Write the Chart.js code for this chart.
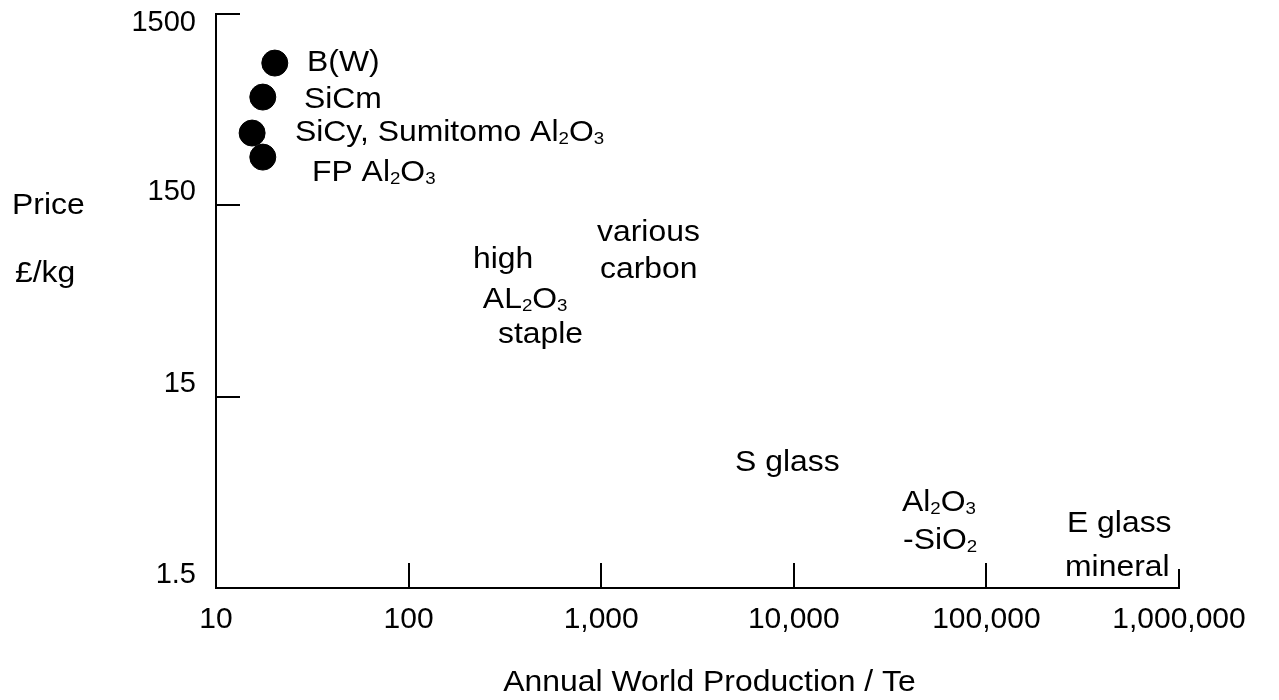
<!DOCTYPE html>
<html lang="en">
<head>
  <meta charset="UTF-8">
  <title>Fibre price vs production</title>
  <script src="https://cdn.jsdelivr.net/npm/chart.js"></script>
  <style>
    body { margin: 0; background: #fff; }
    #wrap { width: 1279px; height: 700px; }
  </style>
</head>
<body>
  <div id="wrap"><canvas id="priceChart"></canvas></div>

  <script>
    // fibres plotted as dots
    const fibreNames = ['B(W)', 'SiCm', 'SiCy, Sumitomo Al2O3', 'FP Al2O3'];
    const production = [20.2, 17.5, 15.4, 17.5];
    const price = [831, 552, 358, 268];

    // text notes placed on the plot (left edge, middle), "_" marks a subscript digit
    const noteText = ['B(W)', 'SiCm', 'SiCy, Sumitomo Al_2O_3', 'FP Al_2O_3',
      'high', 'AL_2O_3', 'staple', 'various', 'carbon', 'S glass',
      'Al_2O_3', '-SiO_2', 'E glass', 'mineral'];
    const noteX = [29.7, 28.6, 25.7, 31.5, 216, 243, 291, 951, 986, 4951, 36460, 36900, 262000, 255900];
    const noteY = [831, 533, 358, 221, 77.6, 48.0, 31.5, 107.5, 68.9, 6.75, 4.17, 2.64, 3.24, 1.91];

    const xTicks = [10, 100, 1000, 10000, 100000, 1000000];
    const yTicks = [1.5, 15, 150, 1500];
    const xTitle = 'Annual World Production / Te';
    const yTitle = ['Price', '£/kg'];

    const FONT = '"Liberation Sans", Arial, sans-serif';
    const STRETCH = 1.1; // the scanned lettering is a bit wide

    function drawNote(ctx, text, x, y, size) {
      const parts = text.split(/(_\d)/).filter(p => p);
      let cx = 0;
      ctx.save();
      ctx.translate(x, y);
      ctx.scale(STRETCH, 1);
      ctx.textBaseline = 'middle';
      ctx.textAlign = 'left';
      parts.forEach(p => {
        if (p[0] === '_') {
          ctx.font = Math.round(size * 0.6) + 'px ' + FONT;
          ctx.fillText(p[1], cx, size * 0.2);
          cx += ctx.measureText(p[1]).width;
        } else {
          ctx.font = size + 'px ' + FONT;
          ctx.fillText(p, cx, 0);
          cx += ctx.measureText(p).width;
        }
      });
      ctx.restore();
    }

    const extras = {
      id: 'extras',
      afterDraw(chart) {
        const ctx = chart.ctx;
        const xs = chart.scales.x;
        const ys = chart.scales.y;
        const area = chart.chartArea;
        ctx.save();
        ctx.strokeStyle = '#000';
        ctx.fillStyle = '#000';
        ctx.lineWidth = 2;

        // inside tick marks
        ctx.beginPath();
        yTicks.slice(1).forEach(v => {
          const py = Math.round(ys.getPixelForValue(v));
          ctx.moveTo(area.left, py);
          ctx.lineTo(area.left + 24, py);
        });
        xTicks.slice(1).forEach((v, i) => {
          const px = Math.round(xs.getPixelForValue(v));
          ctx.moveTo(px, area.bottom);
          ctx.lineTo(px, area.bottom - (i === xTicks.length - 2 ? 19 : 25));
        });
        ctx.stroke();

        // y tick labels, sitting just above their ticks
        ctx.font = '29px ' + FONT;
        ctx.textAlign = 'right';
        ctx.textBaseline = 'middle';
        yTicks.forEach(v => {
          const py = ys.getPixelForValue(v);
          ctx.fillText(String(v), area.left - 20, Math.max(py - 13, 23));
        });

        // axis titles
        drawNote(ctx, yTitle[0], 12, 206, 29);
        drawNote(ctx, yTitle[1], 15, 274, 29);
        ctx.font = '29px ' + FONT;
        const w = ctx.measureText(xTitle).width * STRETCH;
        drawNote(ctx, xTitle, (area.left + area.right) / 2 + 12 - w / 2, 683, 29);

        noteText.forEach((t, i) => {
          drawNote(ctx, t, xs.getPixelForValue(noteX[i]), ys.getPixelForValue(noteY[i]), 29);
        });
        ctx.restore();
      }
    };

    const ctx = document.getElementById('priceChart').getContext('2d');
    new Chart(ctx, {
      type: 'scatter',
      data: {
        labels: fibreNames,
        datasets: [{
          label: 'Fibres',
          data: production.map((p, i) => ({ x: p, y: price[i] })),
          backgroundColor: '#000',
          borderColor: '#000',
          pointRadius: 13,
          pointHoverRadius: 13
        }]
      },
      options: {
        responsive: true,
        maintainAspectRatio: false,
        animation: false,
        layout: { padding: { top: 14, right: 100, left: 0, bottom: 0 } },
        plugins: {
          legend: { display: false },
          tooltip: { enabled: false }
        },
        scales: {
          x: {
            type: 'logarithmic',
            min: 10,
            max: 1000000,
            afterBuildTicks: scale => { scale.ticks = xTicks.map(v => ({ value: v })); },
            afterFit: scale => { scale.height = 112; },
            grid: { display: false, drawTicks: false },
            border: { display: true, color: '#000', width: 2 },
            ticks: {
              color: '#000',
              padding: 14,
              maxRotation: 0,
              autoSkip: false,
              font: { family: FONT, size: 30 },
              callback: v => Number(v).toLocaleString('en-US')
            },
            title: { display: false }
          },
          y: {
            type: 'logarithmic',
            min: 1.5,
            max: 1500,
            afterBuildTicks: scale => { scale.ticks = yTicks.map(v => ({ value: v })); },
            afterFit: scale => { scale.width = 216; },
            grid: { display: false, drawTicks: false },
            border: { display: true, color: '#000', width: 2 },
            ticks: { display: false }
          }
        }
      },
      plugins: [extras]
    });
  </script>
</body>
</html>
